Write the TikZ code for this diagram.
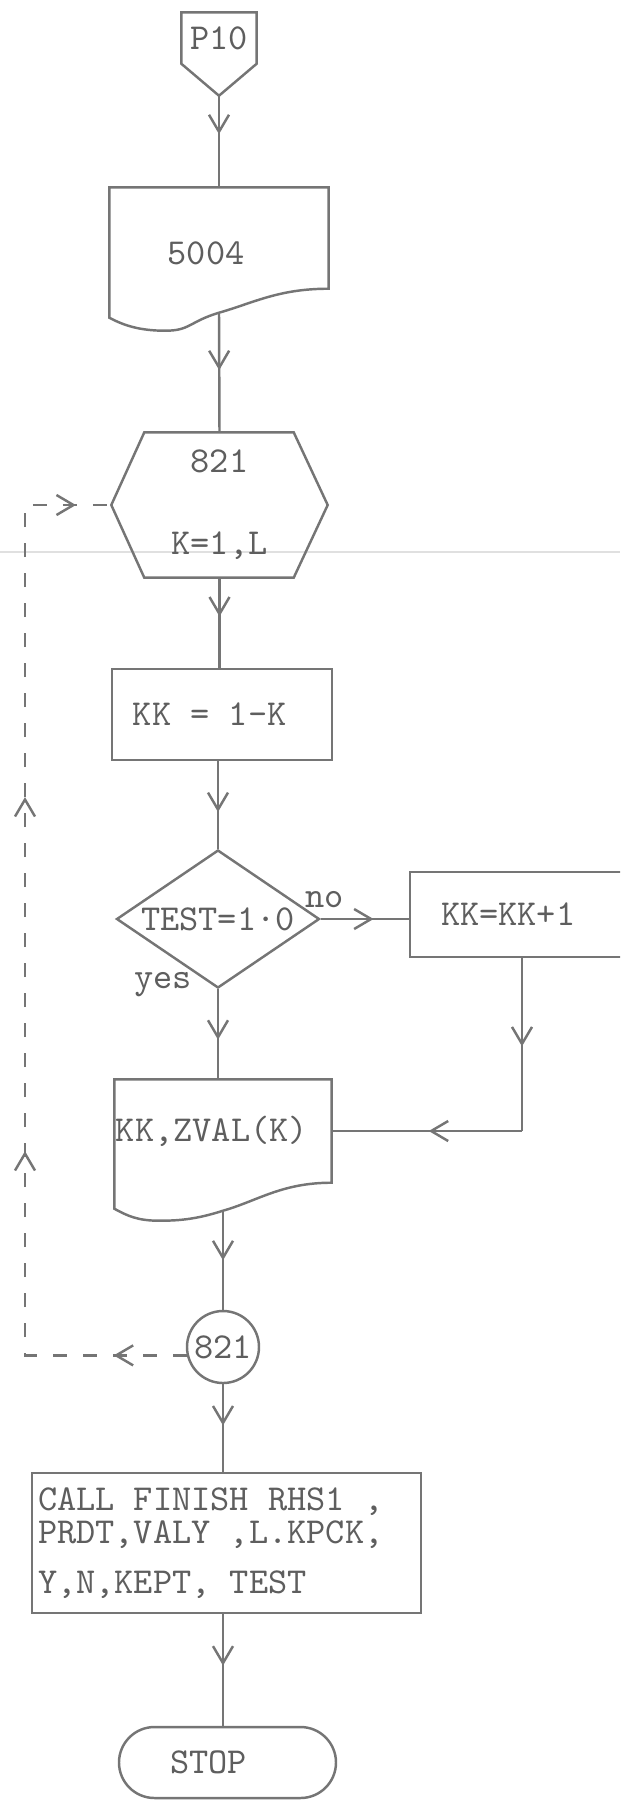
\documentclass[tikz,border=0pt]{standalone}
\usepackage{fontspec}
\usepackage{tikz}
\usetikzlibrary{positioning,calc}
\usetikzlibrary{shapes.geometric,shapes.misc}
\usetikzlibrary{arrows.meta,decorations.markings}

\definecolor{ink}{HTML}{757575}
\definecolor{typed}{HTML}{5E5E5E}

\newcommand{\typewriter}[1]{\fontsize{10.4}{#1}\selectfont\ttfamily\spaceskip 0.525em\relax}
\newcommand{\blank}{\hspace*{0.525em}}

\tikzset{
    lw/.style={line width=0.7pt},
    txt/.style={text=typed, font={\typewriter{12.5}}},
    box/.style={draw=ink, lw, rectangle, inner sep=0pt},
    barb/.tip={Straight Barb[length=1.7mm,width=2mm]},
    flow/.style={draw=ink, lw, postaction={decorate},
        decoration={markings, mark=at position #1 with {\arrow{barb}}}},
    flow/.default=0.5,
    back/.style={draw=ink, lw, dash pattern=on 1.4mm off 1.6mm, postaction={decorate},
        decoration={markings,
            mark=at position 0.73cm with {\arrow{barb}},
            mark=at position 3.66cm with {\arrow{barb}},
            mark=at position 7.20cm with {\arrow{barb}},
            mark=at position 10.63cm with {\arrow{barb}}}}
}

\begin{document}
\begin{tikzpicture}[x=1cm,y=-1cm]
    \useasboundingbox (0,0) rectangle (6.2,18);
    \clip (0,0) rectangle (6.2,18);
    % crease of the scanned sheet
    \draw[black!12, line width=0.5pt] (0,5.52) -- (6.2,5.52);

    % off-page entry
    \node[txt, minimum width=0.74cm, minimum height=0.50cm, inner sep=0pt] (p10) at (2.19,0.38) {P10};
    \coordinate (p10tip) at ($(p10.south)+(0,0.32)$);
    \draw[ink, lw] (p10.north west) -- (p10.north east) -- (p10.south east) -- (p10tip) -- (p10.south west) -- cycle;

    % output document
    \node[minimum width=2.18cm, minimum height=1cm, inner sep=0pt, label={[txt, xshift=-0.13cm, yshift=-0.15cm]center:5004}] (d5004) at (2.19,2.38) {};
    \draw[ink, lw] (d5004.north west) -- (d5004.north east) -- (d5004.south east)
        .. controls +(-0.5,0) and +(0.35,-0.1) .. ($(d5004.south)+(0,0.24)$)
        .. controls +(-0.3,0.09) and +(0.25,0) .. ($(d5004.south west)+(0.56,0.42)$)
        .. controls +(-0.25,0) and +(0.15,0.08) .. ($(d5004.south west)+(0,0.29)$) -- cycle;
    \coordinate (w5004) at ($(d5004.south)+(0,0.24)$);

    % loop head
    \node[txt, minimum width=2.15cm, minimum height=1.44cm, inner sep=0pt, align=center] (h821) at (2.195,5.05) {821\\[0.38cm]K=1,L};
    \draw[ink, lw] ($(h821.north west)+(0.33,0)$) -- ($(h821.north east)+(-0.34,0)$) -- (h821.east)
        -- ($(h821.south east)+(-0.34,0)$) -- ($(h821.south west)+(0.33,0)$) -- (h821.west) -- cycle;

    \node[box, txt, text width=1.78cm, inner xsep=0.21cm, minimum height=0.91cm, align=left] (kk) at (2.22,7.145) {KK\blank =\blank 1-K};

    \node[draw=ink, lw, diamond, txt, aspect=1.47, inner sep=0pt, minimum width=2.03cm, minimum height=1.38cm] (tst) at (2.18,9.19) {TEST=1·0};
    \node[txt] (lno) at (3.25,9.0) {no};
    \node[txt] (lyes) at (1.63,9.85) {yes};

    \node[box, txt, text width=1.62cm, inner xsep=0.31cm, minimum height=0.85cm, align=left] (kk1) at (5.22,9.145) {KK=KK+1};

    % second output document
    \node[txt, text width=2.14cm, inner xsep=0.01cm, inner ysep=0pt, minimum height=1.02cm, align=left] (zval) at (2.23,11.31) {KK,ZVAL(K)};
    \draw[ink, lw] (zval.north west) -- (zval.north east) -- (zval.south east)
        .. controls +(-0.5,0) and +(0.35,-0.1) .. ($(zval.south)+(0,0.28)$)
        .. controls +(-0.25,0.08) and +(0.22,0) .. ($(zval.south west)+(0.45,0.38)$)
        .. controls +(-0.22,0) and +(0.13,0.07) .. ($(zval.south west)+(0,0.26)$) -- cycle;
    \coordinate (wzval) at ($(zval.south)+(0,0.28)$);

    \node[draw=ink, lw, circle, txt, minimum size=0.72cm, inner sep=0pt] (c821) at (2.23,13.47) {821};

    \node[box, txt, font={\typewriter{9.4}}, text width=3.77cm, inner xsep=0.06cm, minimum height=1.40cm, align=left] (call) at (2.265,15.43)
        {CALL\blank FINISH\blank RHS1\blank ,\\PRDT,VALY\blank ,L.KPCK,\\[0.17cm]Y,N,KEPT,\blank TEST};

    \node[draw=ink, lw, rounded rectangle, minimum width=2.17cm, minimum height=0.71cm, inner sep=0pt, label={[txt, xshift=-0.19cm]center:STOP}] (stop) at (2.275,17.625) {};

    % flow lines
    \draw[flow=0.42] (p10tip) -- (d5004.north);
    \draw[flow=0.48] (w5004) -- (h821.north);
    \draw[flow=0.43] (h821.south) -- (h821.south |- kk.north);
    \draw[flow=0.58] (kk.south -| tst.north) -- (tst.north);
    \draw[flow=0.6] (tst.east) -- (tst.east -| kk1.west);
    \draw[flow=0.56] (tst.south) -- (tst.south |- zval.north);
    \coordinate (ret) at (kk1.south |- zval.east);
    \draw[flow=0.51] (kk1.south) -- (ret);
    \draw[flow=0.49] (ret) -- (zval.east);
    \draw[flow=0.5] (wzval) -- (c821.north);
    \draw[flow=0.47] (c821.south) -- (c821.south |- call.north);
    \draw[flow=0.46] (call.south -| c821.south) -- (stop.north -| c821.south);

    % return to loop head
    \coordinate (lptop) at (0.25,5.05);
    \draw[back] (c821.193) -| (lptop) -- (h821.west);
\end{tikzpicture}
\end{document}
